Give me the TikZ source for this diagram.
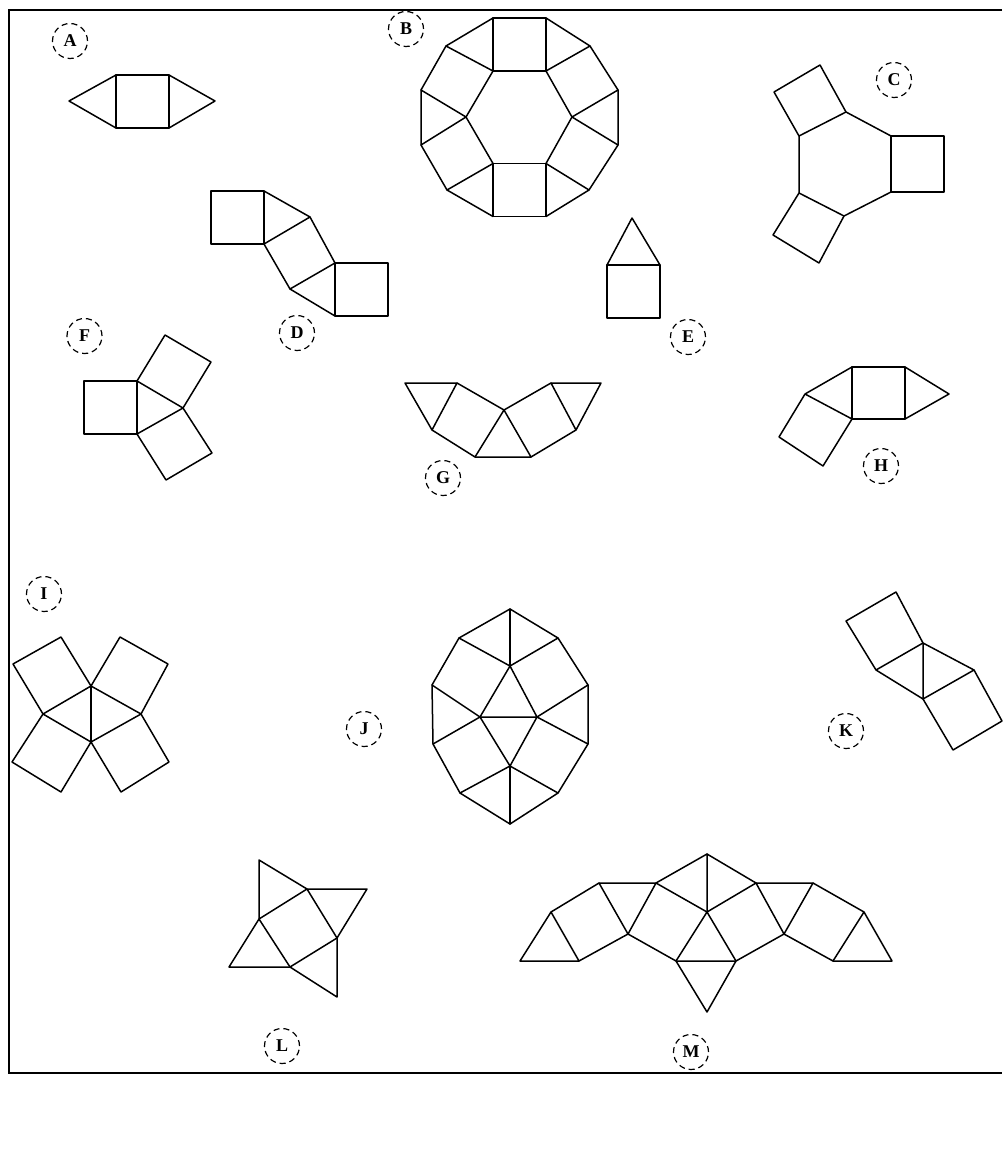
\documentclass[tikz,border=0pt]{standalone}
\usepackage{fontspec}
\setmainfont{Liberation Serif}
\tikzset{
  figline/.style={draw=black,line width=1.5pt,line join=round,line cap=round},
  framed/.style={draw=black,line width=2pt},
  tag/.style={circle,draw=black,line width=1.2pt,dash pattern=on 6pt off 4pt,minimum size=35pt,inner sep=0pt,
    font=\bfseries\fontsize{18}{18}\selectfont,text=black},
}
\begin{document}
\begin{tikzpicture}[x=1pt,y=-1pt]
\useasboundingbox (0,0) rectangle (1002,1156);
\fill[white] (0,0) rectangle (1002,1156);
\draw[framed] (1002,10.5) -- (8.5,10.5) -- (8.5,1072.5) -- (1002,1072.5);
\begin{scope}[figline]
% A
\draw (116,75) rectangle (169,128);
\draw (116,75) -- (69,101) -- (116,128);
\draw (169,75) -- (215,101) -- (169,128);
% B
\draw (493,18) rectangle (546,71);
\draw (493,163.5) rectangle (546,216.5);
\draw (493,18) -- (446,46) -- (421,90) -- (421,145) -- (447,190) -- (493,216.5);
\draw (546,18) -- (590,46) -- (618,90) -- (618,145) -- (589,190) -- (546,216.5);
\draw (493,71) -- (466,117) -- (493,163.5);
\draw (546,71) -- (572,117) -- (546,163.5);
\draw (446,46) -- (493,71);
\draw (590,46) -- (546,71);
\draw (421,90) -- (466,117) -- (421,145);
\draw (618,90) -- (572,117) -- (618,145);
\draw (447,190) -- (493,163.5);
\draw (589,190) -- (546,163.5);
% C
\draw (891,136) rectangle (944,192);
\draw (891,136) -- (846,112) -- (799,136) -- (799,193) -- (844,216) -- (891,192);
\draw (799,136) -- (774,92) -- (820,65) -- (846,112);
\draw (799,193) -- (773,235) -- (819,263) -- (844,216);
% D
\draw (211,191) rectangle (264,244);
\draw (335,263) rectangle (388,316);
\draw (264,191) -- (310,217) -- (264,244) -- (290,289) -- (335,316);
\draw (310,217) -- (335,263) -- (290,289);
% E
\draw (607,265) rectangle (660,318);
\draw (607,265) -- (632,218) -- (660,265);
% F
\draw (84,381) rectangle (137,434);
\draw (137,381) -- (165,335) -- (211,362) -- (183,408) -- cycle;
\draw (183,408) -- (137,434) -- (166,480) -- (212,453) -- cycle;
% G
\draw (405,383) -- (457,383) -- (432,430) -- cycle;
\draw (457,383) -- (504,410) -- (475,457) -- (432,430);
\draw (475,457) -- (531,457) -- (504,410);
\draw (504,410) -- (551,383) -- (576,430) -- (531,457);
\draw (551,383) -- (601,383) -- (576,430);
% H
\draw (852,367) rectangle (905,419);
\draw (905,367) -- (949,394) -- (905,419);
\draw (852,367) -- (805,394) -- (852,419) -- (823,466) -- (779,437) -- (805,394);
% I
\draw (91,686) -- (61,637) -- (13,664) -- (43,714) -- cycle;
\draw (91,686) -- (120,637) -- (168,664) -- (141,714) -- cycle;
\draw (43,714) -- (12,762) -- (61,792) -- (91,742) -- cycle;
\draw (141,714) -- (169,762) -- (121,792) -- (91,742) -- cycle;
\draw (91,686) -- (91,742);
% J
\draw (510,609) -- (558,638) -- (588,685) -- (588,744) -- (558,793) -- (510,824) -- (460,793) -- (433,744) -- (432,685) -- (459,638) -- cycle;
\draw (510,609) -- (510,666);
\draw (459,638) -- (510,666) -- (558,638);
\draw (510,666) -- (480,717) -- (537,717) -- cycle;
\draw (432,685) -- (480,717) -- (433,744);
\draw (588,685) -- (537,717) -- (588,744);
\draw (480,717) -- (510,766) -- (537,717);
\draw (460,793) -- (510,766) -- (558,793);
\draw (510,766) -- (510,824);
% K
\draw (896,592) -- (846,621) -- (876,670) -- (923,643) -- cycle;
\draw (876,670) -- (923,699) -- (923,643) -- (974,670) -- (923,699);
\draw (974,670) -- (1002,721) -- (953,750) -- (923,699);
% L
\draw (259,860) -- (307,889) -- (259,919) -- cycle;
\draw (307,889) -- (367,889) -- (337,938) -- cycle;
\draw (259,919) -- (290,967) -- (337,938);
\draw (259,919) -- (229,967) -- (290,967);
\draw (290,967) -- (337,997) -- (337,938);
% M
\draw (520,961) -- (551,912) -- (579,961) -- cycle;
\draw (551,912) -- (599,883) -- (628,934) -- (579,961);
\draw (599,883) -- (656,883) -- (628,934);
\draw (656,883) -- (707,912) -- (676,961) -- (628,934);
\draw (656,883) -- (707,854) -- (707,912);
\draw (707,854) -- (756,883) -- (707,912);
\draw (756,883) -- (784,934) -- (736,961) -- (707,912);
\draw (676,961) -- (736,961) -- (707,1012) -- cycle;
\draw (756,883) -- (813,883) -- (784,934);
\draw (813,883) -- (864,912) -- (833,961) -- (784,934);
\draw (864,912) -- (892,961) -- (833,961);
\end{scope}
\node[tag] (tagA) at (70,41) {A};
\node[tag] (tagB) at (406,29) {B};
\node[tag] (tagC) at (894,80) {C};
\node[tag] (tagD) at (297,333) {D};
\node[tag] (tagE) at (688,337) {E};
\node[tag] (tagF) at (84.5,336) {F};
\node[tag] (tagG) at (443,478) {G};
\node[tag] (tagH) at (881,466) {H};
\node[tag] (tagI) at (44,594) {I};
\node[tag] (tagJ) at (364,729) {J};
\node[tag] (tagK) at (846,731) {K};
\node[tag] (tagL) at (282,1046) {L};
\node[tag] (tagM) at (691,1052) {M};
\end{tikzpicture}
\end{document}
